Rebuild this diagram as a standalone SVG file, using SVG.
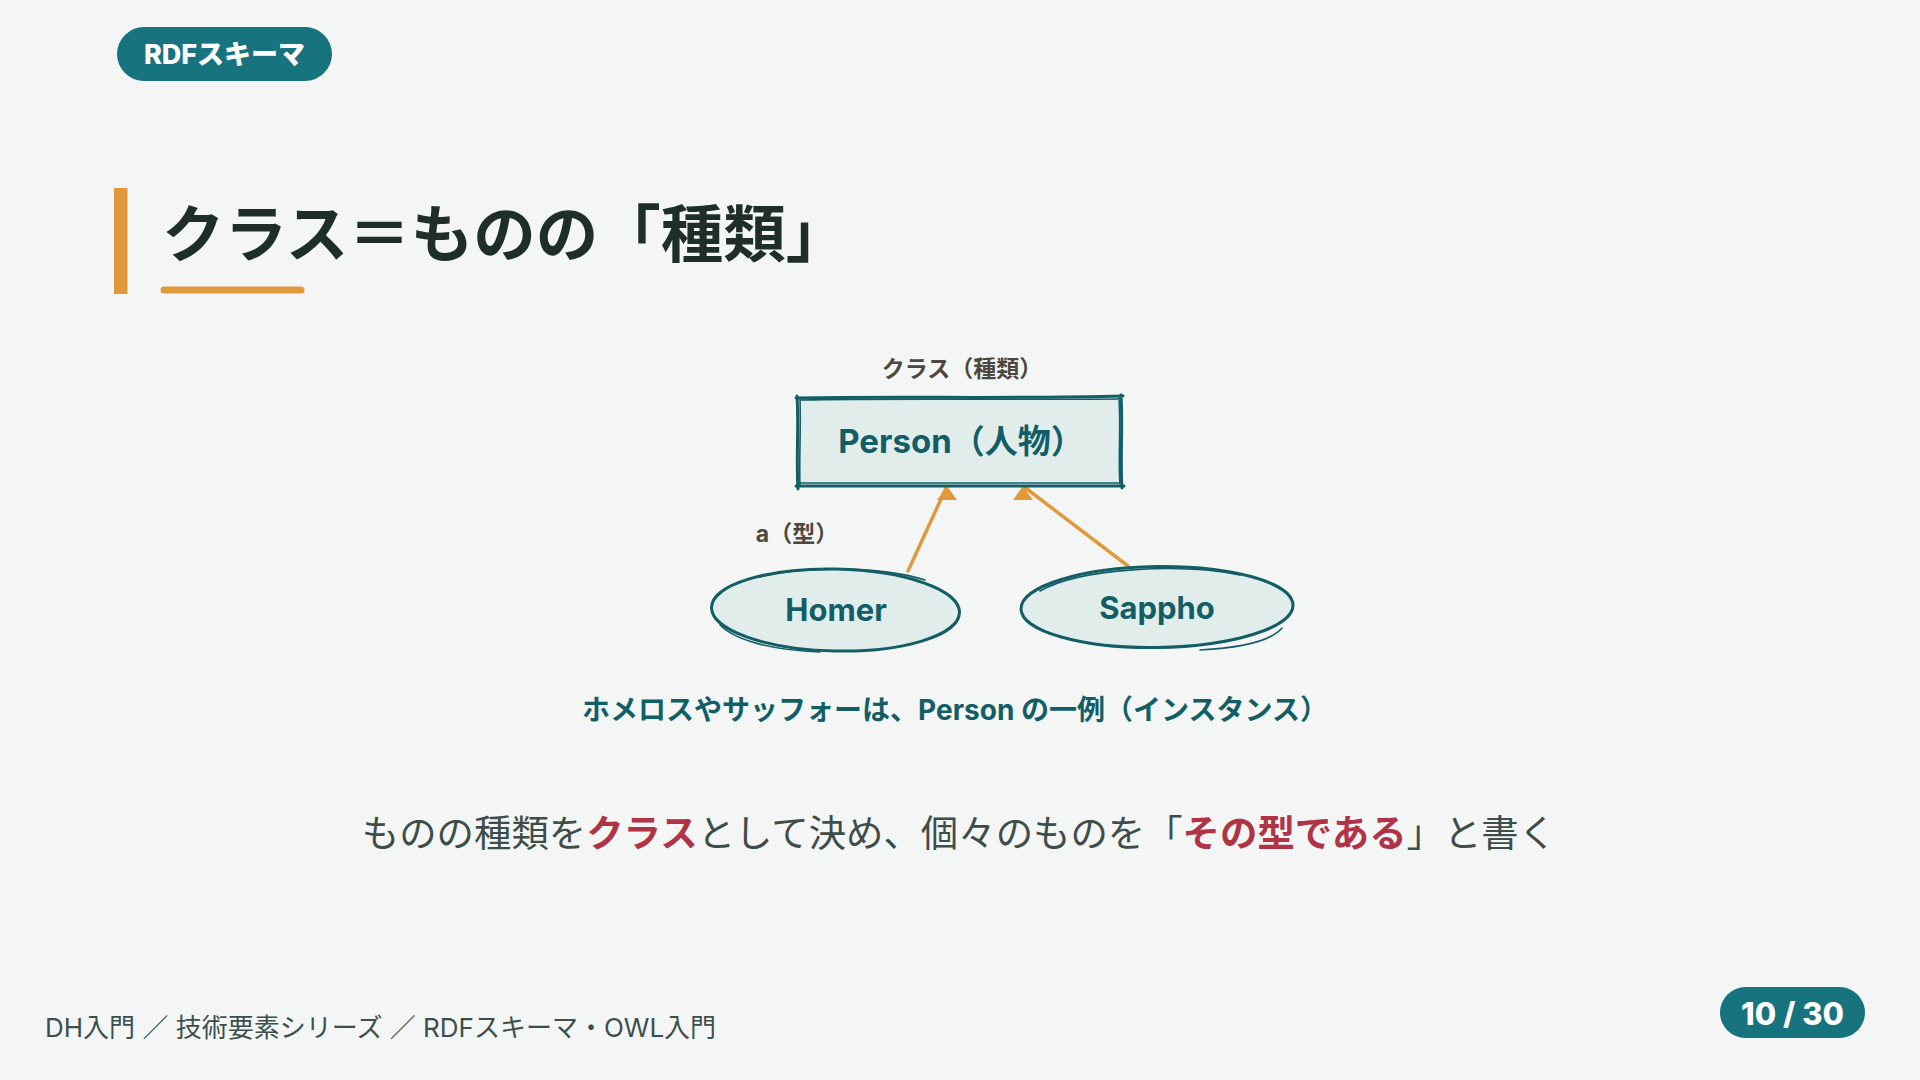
<svg xmlns="http://www.w3.org/2000/svg" width="1920" height="1080" viewBox="0 0 1920 1080">
<defs>
<style>
.jp{font-family:"Inter","Noto Sans CJK JP",sans-serif;}
.badge{fill:#17737d;}
.badgetxt{fill:#ffffff;font-weight:800;font-size:27px;text-anchor:middle;dominant-baseline:central;}
.title{fill:#1f2e2b;font-weight:700;font-size:62.5px;}
.lbl{fill:#4d4740;font-weight:700;font-size:23px;text-anchor:middle;dominant-baseline:central;}
.node{fill:#135e66;font-weight:700;text-anchor:middle;dominant-baseline:central;}
.shape{fill:#e1edeb;stroke:none;}
.sk{fill:none;stroke:#135e66;stroke-width:3;stroke-linecap:round;stroke-linejoin:round;}
.sk2{fill:none;stroke:#135e66;stroke-width:1.6;stroke-linecap:round;}
.edge{fill:none;stroke:#e09a3c;stroke-width:3.5;stroke-linecap:round;}
.cap{fill:#135e66;font-weight:700;font-size:28px;text-anchor:middle;dominant-baseline:central;}
.main{fill:#3f4d4a;font-size:37.4px;text-anchor:middle;dominant-baseline:central;}
.hl{fill:#b03446;font-weight:700;}
.foot{fill:#3d4f4d;font-size:26px;dominant-baseline:central;}
</style>
<marker id="tri" markerUnits="userSpaceOnUse" markerWidth="16" markerHeight="22" viewBox="0 -11 16 22" refX="14" refY="0" orient="-90">
<path d="M0,-10 L14,0 L0,10 Z" fill="#e09a3c"/>
</marker>
</defs>
<rect width="1920" height="1080" fill="#f4f6f5"/>

<g id="section-badge">
<rect class="badge" x="117" y="27" width="215" height="54" rx="27"/>
<text class="jp badgetxt" x="224.5" y="54">RDFスキーマ</text>
</g>

<g id="title">
<rect x="114" y="188" width="13.5" height="106" fill="#e09a3c"/>
<text class="jp title" x="162" y="257">クラス＝ものの「種類」</text>
<line x1="164" y1="290" x2="301" y2="290" stroke="#e09a3c" stroke-width="7" stroke-linecap="round"/>
</g>

<g id="label-class">
<text class="jp lbl" x="962" y="369">クラス（種類）</text>
</g>

<g id="label-type">
<text class="jp lbl" x="797" y="534">a（型）</text>
</g>

<g id="connectors">
<path class="edge" d="M908,571 L947,486" marker-end="url(#tri)"/>
<path class="edge" d="M1128,566 L1023,486" marker-end="url(#tri)"/>
</g>

<g id="node-person">
<rect class="shape" x="798" y="397" width="324" height="89"/>
<path class="sk" d="M796,398 C900,396 1010,399 1123,396 M1121,395 C1123,425 1120,460 1122,488 M1124,486 C1010,487 900,485 796,486 M798,489 C796,460 799,425 797,396"/>
<path class="sk2" d="M800,400 C900,398 1010,400 1120,399 M1119,398 C1121,430 1118,460 1120,484 M1120,483 C1010,484 900,483 799,483 M800,485 C799,460 801,430 800,399"/>
<text class="jp node" x="961" y="441" style="font-size:33px">Person（人物）</text>
</g>

<g id="node-homer">
<ellipse class="shape" cx="835.5" cy="610" rx="124" ry="41"/>
<ellipse class="sk" cx="835.5" cy="610" rx="124" ry="41" transform="rotate(1.2 835.5 610)"/>
<path class="sk2" d="M760,577 C800,566 880,566 925,580 M720,625 C735,640 770,650 820,652"/>
<text class="jp node" x="836" y="609" style="font-size:31px">Homer</text>
</g>

<g id="node-sappho">
<ellipse class="shape" cx="1157" cy="607" rx="136" ry="41"/>
<ellipse class="sk" cx="1157" cy="607" rx="136" ry="40.5" transform="rotate(-0.8 1157 607)"/>
<path class="sk2" d="M1040,591 C1080,568 1180,563 1240,575 M1282,628 C1270,642 1240,648 1200,650"/>
<text class="jp node" x="1157" y="607" style="font-size:31px">Sappho</text>
</g>

<g id="caption">
<text class="jp cap" x="955" y="710">ホメロスやサッフォーは、Person の一例（インスタンス）</text>
</g>

<g id="summary">
<text class="jp main" x="959" y="833">ものの種類を<tspan class="hl">クラス</tspan>として決め、個々のものを「<tspan class="hl">その型である</tspan>」と書く</text>
</g>

<g id="footer">
<text class="jp foot" x="45" y="1027">DH入門 ／ 技術要素シリーズ ／ RDFスキーマ・OWL入門</text>
</g>

<g id="page-number">
<rect class="badge" x="1720" y="987" width="145" height="51" rx="25.5"/>
<text class="jp badgetxt" x="1792.5" y="1013" style="font-size:31px">10 / 30</text>
</g>
</svg>
